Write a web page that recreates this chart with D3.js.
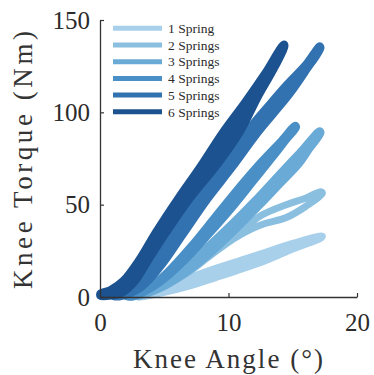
<!DOCTYPE html>
<html>
<head>
<meta charset="utf-8">
<script src="https://cdn.jsdelivr.net/npm/d3@7"></script>
<style>
  html, body { margin: 0; padding: 0; background: #fff; }
  svg { display: block; }
</style>
</head>
<body>
<div id="chart"></div>
<script>
// Series names and colours (light -> dark)
const seriesNames = ['1 Spring', '2 Springs', '3 Springs', '4 Springs', '5 Springs', '6 Springs'];
const seriesColors = ['#a9d0ea', '#8bbfe0', '#6aaad6', '#4a90c6', '#3272b0', '#1c528f'];

// Hysteresis loops: [knee angle (deg), knee torque (Nm)], one branch up to the peak then back down
const spring1 = [[3, 0], [5, 2.5], [7, 6], [9, 10.5], [11, 15], [13, 20], [15, 26], [17.2, 32],
                 [17.3, 33], [15, 29], [13, 24.5], [11, 20], [9, 15.5], [7, 10.5], [5, 5], [3, 0.5]];
const spring2 = [[3, 0.5], [5, 6], [7, 14], [9, 25], [11, 36], [12.5, 44], [14.5, 50], [16, 53.5], [17.2, 57],
                 [17.3, 56], [16, 49], [14.5, 43], [12.5, 39], [10.5, 32], [8.5, 22], [6.5, 12], [4.5, 4], [3, 0]];
const spring3 = [[2.5, 0.5], [4, 4], [6, 13], [8, 25], [10, 38], [12, 52], [14, 67], [15.5, 78], [17.1, 90],
                 [17.2, 89], [16.3, 80], [15.5, 72], [14, 61], [12.5, 50], [10.5, 36], [8.5, 23], [6.5, 12], [4.5, 4], [2.5, 0]];
const spring4 = [[2, 0.5], [3.5, 4], [5, 12], [7, 27], [9, 44], [11, 61], [12.5, 73], [14, 84], [15.2, 93],
                 [15.3, 92], [14.5, 85], [13.5, 76], [12, 63], [10.5, 50], [8.5, 34], [6.5, 19], [4.5, 7], [2.5, 0]];
const spring5 = [[1, 0.5], [2.5, 5], [4, 17], [5.5, 33], [7.4, 53], [9.4, 72], [11.3, 89], [13, 103], [14.5, 115], [16, 126], [17.1, 136],
                 [17.2, 135], [16, 122], [14.8, 110], [13.5, 99], [12.2, 88], [10.3, 70], [8.4, 53], [6.5, 34], [4.8, 17], [3.2, 5], [1.5, 0]];
const spring6 = [[0, 2], [0.8, 4], [1.8, 9], [3, 20], [4.3, 35], [6, 53], [7.8, 71], [9.5, 89], [11.3, 106], [12.8, 121], [14.3, 137],
                 [14.4, 136], [13.6, 124], [12.3, 108], [10.9, 89], [9.2, 72], [7, 53], [5.2, 35], [3.8, 20], [2.7, 8], [1.7, 2], [0, 0.5]];
const loops = [spring1, spring2, spring3, spring4, spring5, spring6];

// Axis ticks
const xTicks = [0, 10, 20];
const yTicks = [0, 50, 100, 150];

const width = 374, height = 375;
const margin = { left: 100, right: 17, top: 20, bottom: 78 };
const serif = '"Liberation Serif", "DejaVu Serif", serif';

const svg = d3.select('#chart').append('svg')
    .attr('width', width)
    .attr('height', height)
    .attr('font-family', serif);

const x = d3.scaleLinear().domain([0, 20]).range([margin.left, width - margin.right]);
const y = d3.scaleLinear().domain([0, 150]).range([height - margin.bottom, margin.top]);

// Loops (lightest first so darker series sit on top); 2 Springs keeps its open loop
const line = d3.line()
    .x(d => x(d[0]))
    .y(d => y(d[1]))
    .curve(d3.curveCatmullRomClosed.alpha(0.5));

svg.append('g').selectAll('path')
    .data(loops)
    .enter()
    .append('path')
    .attr('d', line)
    .attr('fill', (d, i) => i === 1 ? 'none' : seriesColors[i])
    .attr('stroke', (d, i) => seriesColors[i])
    .attr('stroke-width', 7)
    .attr('stroke-linejoin', 'round')
    .attr('stroke-linecap', 'round');

// Axes: inward ticks, only left and bottom spines
const xAxis = svg.append('g')
    .attr('transform', `translate(0,${y(0)})`)
    .call(d3.axisBottom(x).tickValues(xTicks).tickSizeInner(-4).tickSizeOuter(0).tickPadding(16));
const yAxis = svg.append('g')
    .attr('transform', `translate(${x(0)},0)`)
    .call(d3.axisLeft(y).tickValues(yTicks).tickSizeInner(-4).tickSizeOuter(0).tickPadding(10));

[xAxis, yAxis].forEach(ax => {
    ax.attr('font-family', serif).attr('font-size', 25);
    ax.select('.domain').attr('stroke', '#333').attr('stroke-width', 1.3);
    ax.selectAll('.tick line').attr('stroke', '#333').attr('stroke-width', 1.2);
    ax.selectAll('.tick text').attr('fill', '#2b2b2b');
});
xAxis.selectAll('.tick text').attr('dy', '0.7em');

// Axis titles
svg.append('text')
    .attr('x', 228)
    .attr('y', 368)
    .attr('text-anchor', 'middle')
    .attr('font-size', 27)
    .attr('textLength', 190)
    .attr('lengthAdjust', 'spacing')
    .attr('fill', '#333')
    .text('Knee Angle (°)');

svg.append('text')
    .attr('transform', 'translate(32,160) rotate(-90)')
    .attr('text-anchor', 'middle')
    .attr('font-size', 27)
    .attr('textLength', 258)
    .attr('lengthAdjust', 'spacing')
    .attr('fill', '#333')
    .text('Knee Torque (Nm)');

// Legend
const legend = svg.append('g');
const rows = legend.selectAll('g')
    .data(seriesNames)
    .enter()
    .append('g')
    .attr('transform', (d, i) => `translate(113,${28.3 + i * 16.7})`);

rows.append('line')
    .attr('x1', 0).attr('x2', 49)
    .attr('stroke', (d, i) => seriesColors[i])
    .attr('stroke-width', 5);

rows.append('text')
    .attr('x', 55)
    .attr('dy', '0.35em')
    .attr('font-size', 13.5)
    .attr('fill', '#2b2b2b')
    .text(d => d);
</script>
</body>
</html>
